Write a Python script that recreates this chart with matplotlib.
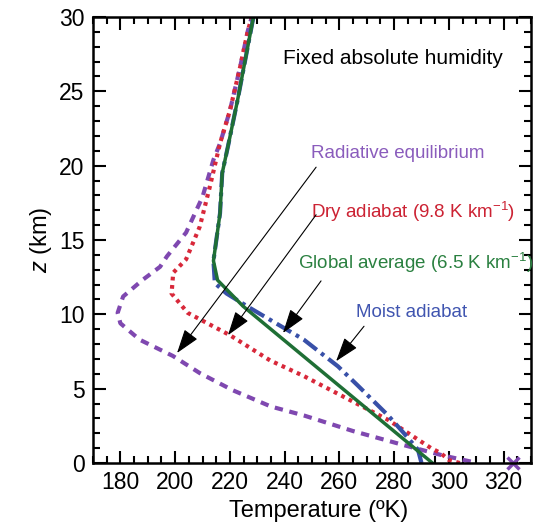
"""
Temperature profiles, fixed absolute humidity
"""
import matplotlib
matplotlib.use("Agg")
import matplotlib.pyplot as plt

plt.rcParams['font.family'] = ['Liberation Sans', 'DejaVu Sans']
plt.rcParams['mathtext.fontset'] = 'custom'
plt.rcParams['mathtext.rm'] = 'Liberation Sans'
plt.rcParams['mathtext.it'] = 'Liberation Sans:italic'

# radiative equilibrium (K, km)
rad_T = [308, 298, 283.6, 265, 247, 235, 221, 209, 199.2, 187, 180, 179, 181, 188,
         194.5, 197, 204, 210, 214, 216.4, 220, 223.7, 226.6, 228]
rad_z = [0.1, 0.5, 1.2, 2.15, 3.2, 3.8, 4.9, 6.05, 7.2, 8.3, 9.4, 10.1, 11.2, 12.3,
         13.2, 13.9, 15.5, 17.9, 20.4, 21.5, 23.7, 26.6, 29.1, 30]

# dry adiabat
dry_T = [304, 300, 297, 293.5, 277.8, 247, 234.7, 220, 204.6, 198.7, 199.3, 204,
         209, 212.7, 216.4, 220, 223.7, 226.6, 228]
dry_z = [0, 0.2, 0.67, 1.0, 2.9, 5.85, 6.9, 8.6, 10.1, 11.4, 12.8, 13.7,
         15.9, 18.6, 21.5, 23.7, 26.6, 29.1, 30]

# global average 6.5 K/km
glob_T = [294, 224.8, 215.5, 214, 216.4, 217.2, 219.3, 222.8, 228.6]
glob_z = [0, 10.55, 12.3, 13.6, 16.8, 19.5, 21.3, 24.4, 30]

# moist adiabat
moist_T = [290, 288.7, 283.6, 277.8, 266.8, 259.5, 247, 235, 226.7, 218.8, 214.5,
           214, 216.4, 217.2, 219.3, 222.8, 228.6]
moist_z = [0, 0.9, 2.0, 3.2, 5.2, 6.5, 8.3, 9.6, 10.5, 11.4, 12.1,
           13.6, 16.8, 19.5, 21.3, 24.4, 30]

purple = '#7f48b0'
red = '#d8283a'
green = '#1f6f35'
blue = '#3850a8'

fig = plt.figure(figsize=(5.42, 5.27), dpi=100)
ax = fig.add_axes([0.1716, 0.1214, 0.8081, 0.8463])

ax.plot(rad_T, rad_z, color=purple, lw=3, ls=(0, (2, 1.6)))
ax.plot(dry_T, dry_z, color=red, lw=3, ls=(0, (0.9, 1.1)))
ax.plot(moist_T, moist_z, color=blue, lw=3, ls=(0, (4, 1.3, 0.9, 1.3)))
ax.plot(glob_T, glob_z, color=green, lw=2.5)
ax.plot([323.5], [0], marker='x', color=purple, ms=9, mew=2.5, clip_on=False)

ax.set_xlim(170, 330)
ax.set_ylim(0, 30)
ax.set_xticks(range(180, 321, 20))
ax.set_xticks(range(170, 331, 5), minor=True)
ax.set_yticks(range(0, 31, 5))
ax.set_yticks(range(0, 31, 1), minor=True)
ax.tick_params(which='both', direction='in', top=True, right=True, width=1.5,
               labelsize=16.5)
ax.tick_params(which='major', length=9, pad=6)
ax.tick_params(which='minor', length=5)
for s in ax.spines.values():
    s.set_linewidth(1.8)

ax.set_xlabel('Temperature (ºK)', fontsize=17, labelpad=4, x=0.515)
ax.set_ylabel('$z$ (km)', fontsize=17, labelpad=4)

ax.text(239.4, 27.2, 'Fixed absolute humidity', fontsize=15, va='center')
ax.text(249.6, 20.85, 'Radiative equilibrium', fontsize=13.5, va='center',
        color='#8a5cbc')
ax.text(249.6, 16.9, 'Dry adiabat (9.8 K km$^{-1}$)', fontsize=13.5,
        va='center', color='#cc2233')
ax.text(244.9, 13.45, 'Global average (6.5 K km$^{-1}$)', fontsize=13.5,
        va='center', color='#2a8040')
ax.text(266, 10.1, 'Moist adiabat', fontsize=13.5, va='center', color='#4055b0')

arrows = [((251.5, 19.9), (200.7, 7.4)),
          ((251.5, 16.7), (219.3, 8.6)),
          ((253.3, 12.25), (239.4, 8.75)),
          ((269, 9.2), (258.8, 6.85))]
for tail, tip in arrows:
    ax.annotate('', xy=tip, xytext=tail,
                arrowprops=dict(arrowstyle='-|>,head_length=1.5,head_width=0.5',
                                color='black', lw=0.8, shrinkA=0, shrinkB=0))

fig.savefig('out.png', dpi=100)
